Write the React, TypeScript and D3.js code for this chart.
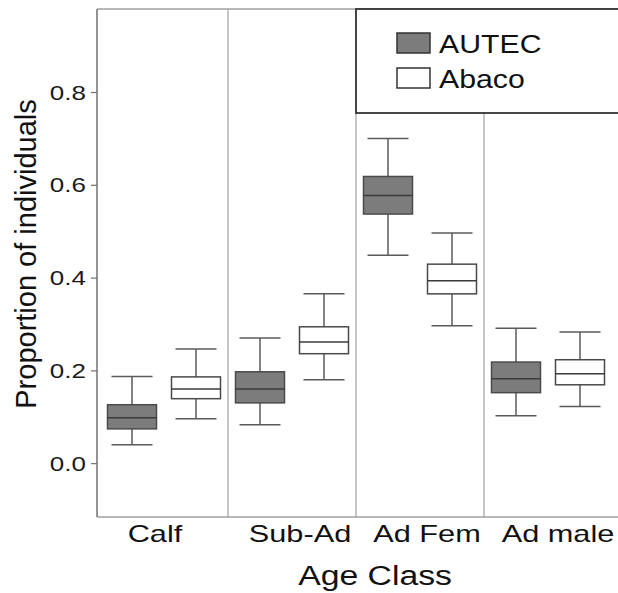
import React from "react";
import * as d3 from "d3";

const categories = ["Calf", "Sub-Ad", "Ad Fem", "Ad male"];
const groups = ["AUTEC", "Abaco"];

// [whiskerLow, q1, median, q3, whiskerHigh] per category
const autec = [
  [0.041, 0.075, 0.099, 0.127, 0.188],
  [0.084, 0.131, 0.161, 0.198, 0.271],
  [0.449, 0.538, 0.578, 0.619, 0.701],
  [0.103, 0.153, 0.183, 0.219, 0.292],
];
const abaco = [
  [0.097, 0.140, 0.161, 0.187, 0.247],
  [0.181, 0.237, 0.262, 0.295, 0.366],
  [0.297, 0.366, 0.394, 0.430, 0.497],
  [0.123, 0.170, 0.194, 0.224, 0.284],
];
const yTicks = [0.0, 0.2, 0.4, 0.6, 0.8];

const W = 618;
const H = 593;
const frameLeft = 97;
const fills = ["#7c7c7c", "#ffffff"];
const font = "Liberation Sans, Arial, sans-serif";
// the labels in the original are not quite centred on their panels
const labelNudge = [-9, 8, 7, 10];

export default function App() {
  const x = d3.scaleBand<string>().domain(categories).range([100, 612]).padding(0);
  const y = d3.scaleLinear().domain([-0.115, 0.98]).range([517, 9]);
  const offsets = [-32, 32];
  const boxHalf = 24.5;
  const capHalf = 20.5;
  const top = y(0.98);
  const bottom = y(-0.115);
  const series = [autec, abaco];

  return (
    <svg width={W} height={H} style={{ position: "absolute", left: 0, top: 0, background: "#fff" }}>
      {/* panel dividers */}
      {categories.slice(1).map((c) => (
        <line key={c} x1={x(c)} x2={x(c)} y1={top} y2={bottom} stroke="#a8a8a8" strokeWidth={1.3} />
      ))}
      {/* frame */}
      <line x1={frameLeft} x2={W} y1={top} y2={top} stroke="#a0a0a0" strokeWidth={1.5} />
      <line x1={frameLeft} x2={W} y1={bottom} y2={bottom} stroke="#a0a0a0" strokeWidth={1.5} />
      <line x1={frameLeft} x2={frameLeft} y1={top} y2={bottom} stroke="#707070" strokeWidth={1.5} />

      {/* y ticks */}
      {yTicks.map((t) => (
        <g key={t}>
          <line x1={frameLeft - 6} x2={frameLeft} y1={y(t)} y2={y(t)} stroke="#707070" strokeWidth={1.2} />
          <g transform={`translate(${frameLeft - 11},${y(t) + 7}) scale(1.3,1)`}>
            <text textAnchor="end" fontFamily={font} fontSize={20} fill="#1a1a1a">
              {d3.format(".1f")(t)}
            </text>
          </g>
        </g>
      ))}

      {/* boxes */}
      {series.map((s, gi) =>
        s.map((v, ci) => {
          const cx = (x(categories[ci]) as number) + x.bandwidth() / 2 + offsets[gi];
          const [lo, q1, med, q3, hi] = v;
          return (
            <g key={`${gi}-${ci}`} stroke="#5a5a5a" strokeWidth={1.5}>
              <line x1={cx} x2={cx} y1={y(hi)} y2={y(q3)} />
              <line x1={cx} x2={cx} y1={y(q1)} y2={y(lo)} />
              <line x1={cx - capHalf} x2={cx + capHalf} y1={y(hi)} y2={y(hi)} />
              <line x1={cx - capHalf} x2={cx + capHalf} y1={y(lo)} y2={y(lo)} />
              <rect
                x={cx - boxHalf}
                y={y(q3)}
                width={boxHalf * 2}
                height={y(q1) - y(q3)}
                fill={fills[gi]}
                stroke="#4a4a4a"
              />
              <line x1={cx - boxHalf} x2={cx + boxHalf} y1={y(med)} y2={y(med)} stroke="#3a3a3a" />
            </g>
          );
        })
      )}

      {/* legend */}
      <rect x={x("Ad Fem")} y={top} width={W - (x("Ad Fem") as number) + 5} height={104} fill="#fff" stroke="#333" strokeWidth={1.8} />
      {groups.map((g, i) => (
        <g key={g}>
          <rect x={397} y={33 + i * 35} width={33} height={20} fill={fills[i]} stroke="#333" strokeWidth={1.5} />
          <g transform={`translate(439,${53 + i * 35}) scale(1.21,1)`}>
            <text fontFamily={font} fontSize={25} fill="#111">{g}</text>
          </g>
        </g>
      ))}

      {/* category labels */}
      {categories.map((c, i) => (
        <g key={c} transform={`translate(${(x(c) as number) + x.bandwidth() / 2 + labelNudge[i]},542) scale(1.28,1)`}>
          <text textAnchor="middle" fontFamily={font} fontSize={24} fill="#111">{c}</text>
        </g>
      ))}

      {/* axis titles */}
      <g transform="translate(375,585) scale(1.25,1)">
        <text textAnchor="middle" fontFamily={font} fontSize={27} fill="#111">Age Class</text>
      </g>
      <text
        transform="translate(36,254) rotate(-90)"
        textAnchor="middle"
        fontFamily={font}
        fontSize={29}
        fill="#111"
      >
        Proportion of individuals
      </text>
    </svg>
  );
}
